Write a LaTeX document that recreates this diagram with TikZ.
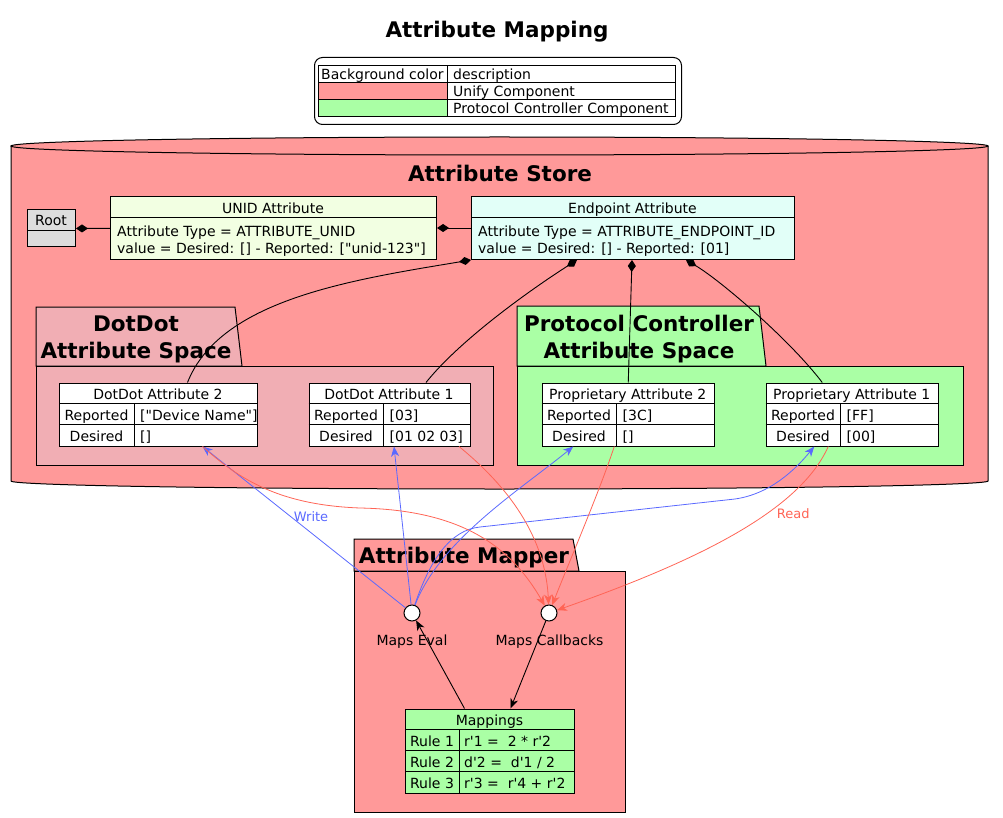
\documentclass[tikz,border=0pt]{standalone}
\usepackage{fontspec}
\usetikzlibrary{arrows.meta}
\newfontfamily\umlfont{DejaVu Sans}
\definecolor{unify}{RGB}{255,153,153}
\definecolor{pcgreen}{RGB}{170,255,165}
\definecolor{ddpink}{RGB}{241,174,180}
\definecolor{unidbg}{RGB}{242,255,226}
\definecolor{epbg}{RGB}{226,255,248}
\definecolor{rootbg}{RGB}{221,221,221}
\definecolor{writeblue}{RGB}{90,105,255}
\definecolor{readred}{RGB}{255,100,85}

\tikzset{
  txt/.style={font=\umlfont\fontsize{14}{17}\selectfont, inner sep=0pt, anchor=base},
  bigbold/.style={font=\umlfont\bfseries\fontsize{21.5}{27}\selectfont, inner sep=0pt, align=center},
  lbl/.style={font=\umlfont\fontsize{13}{15}\selectfont, inner sep=2pt},
  box/.style={draw, line width=1pt, inner sep=0pt},
  tblbox/.style={box, fill=white, minimum height=63pt},
  pkg/.style={draw, line width=1pt},
  port/.style={circle, draw, line width=1pt, fill=white, minimum size=16pt, inner sep=0pt},
  comp/.style={line width=0.9pt, {Diamond[length=12pt,width=8pt]}-},
  flow/.style={line width=0.9pt, -{Stealth[length=10pt,width=8pt,inset=3pt]}},
  writeline/.style={writeblue, line width=0.8pt, -{Stealth[length=10pt,width=8pt,inset=3pt]}},
  readline/.style={readred, line width=0.8pt, -{Stealth[length=10pt,width=8pt,inset=3pt]}},
}

% name, x, y, width, title, reported, desired
\newcommand\attrtable[7]{%
  \node[tblbox, minimum width=#4pt, anchor=north west] (#1) at (#2,#3) {};
  \draw[line width=1pt] (#2,#3+21) -- ++(#4,0) (#2,#3+42) -- ++(#4,0)
        (#2+75,#3+21) -- ++(0,42);
  \node[txt] (#1-title) at (#2+#4/2,#3+17) {#5};
  \node[txt] (#1-rl) at (#2+37.5,#3+38) {Reported};
  \node[txt, anchor=base west] (#1-rv) at (#2+81,#3+38) {#6};
  \node[txt] (#1-dl) at (#2+37.5,#3+59) {Desired};
  \node[txt, anchor=base west] (#1-dv) at (#2+81,#3+59) {#7};
}

\begin{document}
\begin{tikzpicture}[x=1pt,y=-1pt]
    \useasboundingbox (0,0) rectangle (1003,818);

    % title
    \node[bigbold, anchor=base] (title) at (497,37.5) {Attribute Mapping};

    % legend
    \node[box, rounded corners=8pt, fill=white, minimum width=367pt,
          minimum height=67pt, anchor=north west] (legend) at (314,57) {};
    \fill[unify] (318,82.5) rectangle (447,99.5);
    \fill[pcgreen] (318,99.5) rectangle (447,116.5);
    \draw[line width=1pt] (318,65.7) rectangle (675.5,116.5)
      (318,82.5) -- (675.5,82.5) (318,99.5) -- (675.5,99.5)
      (447,65.7) -- (447,116.5);
    \node[txt, anchor=base west] (lgh1) at (321,80) {Background color};
    \node[txt, anchor=base west] (lgh2) at (453,80) {description};
    \node[txt, anchor=base west] (lgunify) at (453,97) {Unify Component};
    \node[txt, anchor=base west] (lgpc) at (453,114) {Protocol Controller Component};

    % attribute store (cylinder)
    \draw[line width=1pt, fill=unify] (11,146) -- (11,481)
      arc[start angle=180, end angle=0, x radius=488.5, y radius=8] -- (988,146);
    \draw[line width=1pt, fill=unify] (499.5,146) ellipse[x radius=488.5, y radius=9];
    \node[bigbold, anchor=base] (store) at (500,181.5) {Attribute Store};

    % root, unid, endpoint
    \node[box, fill=rootbg, minimum width=48pt, minimum height=37pt,
          anchor=north west] (root) at (27,209.5) {};
    \draw[line width=1pt] (27,230.5) -- (75,230.5);
    \node[txt] (root-title) at (51,226) {Root};

    \node[box, fill=unidbg, minimum width=326pt, minimum height=63pt,
          anchor=north west] (unid) at (110,196) {};
    \draw[line width=1pt] (110,217.5) -- (436,217.5);
    \node[txt] (unid-title) at (273,213.3) {UNID Attribute};
    \node[txt, anchor=base west] (unid-type) at (117,236.5) {Attribute Type = ATTRIBUTE\_UNID};
    \node[txt, anchor=base west] (unid-val) at (117,253.5) {value = Desired: [] - Reported: ["unid-123"]};

    \node[box, fill=epbg, minimum width=323pt, minimum height=63pt,
          anchor=north west] (endpoint) at (471,196) {};
    \draw[line width=1pt] (471,217.5) -- (794,217.5);
    \node[txt] (endpoint-title) at (632.5,213.3) {Endpoint Attribute};
    \node[txt, anchor=base west] (endpoint-type) at (478,236.5) {Attribute Type = ATTRIBUTE\_ENDPOINT\_ID};
    \node[txt, anchor=base west] (endpoint-val) at (478,253.5) {value = Desired: [] - Reported: [01]};

    % dotdot attribute space
    \draw[pkg, fill=ddpink] (36,366) -- (36,307) -- (235,307) -- (242,366) -- cycle;
    \node[box, fill=ddpink, minimum width=457pt, minimum height=99pt,
          anchor=north west] (ddspace) at (36,366) {};
    \node[bigbold] (ddspace-title) at (136,339) {DotDot\\Attribute Space};

    % protocol controller attribute space
    \draw[pkg, fill=pcgreen] (517,366) -- (517,306) -- (759,306) -- (766,366) -- cycle;
    \node[box, fill=pcgreen, minimum width=446pt, minimum height=99pt,
          anchor=north west] (pcspace) at (517,366) {};
    \node[bigbold] (pcspace-title) at (639,339) {Protocol Controller\\Attribute Space};

    \attrtable{dd2}{59}{382.5}{198}{DotDot Attribute 2}{["Device Name"]}{[]}
    \attrtable{dd1}{308.5}{382.5}{161}{DotDot Attribute 1}{[03]}{[01 02 03]}
    \attrtable{prop2}{541.5}{382.5}{172.5}{Proprietary Attribute 2}{[3C]}{[]}
    \attrtable{prop1}{765.5}{382.5}{172.5}{Proprietary Attribute 1}{[FF]}{[00]}

    % attribute mapper
    \draw[pkg, fill=unify] (354,571) -- (354,539) -- (573,539) -- (579,571) -- cycle;
    \node[box, fill=unify, minimum width=271pt, minimum height=241pt,
          anchor=north west] (mapper) at (354,571) {};
    \node[bigbold, anchor=base] (mapper-title) at (464,563) {Attribute Mapper};

    \node[port] (eval) at (412,613) {};
    \node[txt] (eval-lbl) at (412,645) {Maps Eval};
    \node[port] (callbacks) at (549,613) {};
    \node[txt] (callbacks-lbl) at (549.5,645) {Maps Callbacks};

    % mappings table
    \node[box, fill=pcgreen, minimum width=169pt, minimum height=84pt,
          anchor=north west] (mappings) at (405,708.5) {};
    \draw[line width=1pt] (405,729.5) -- (574,729.5) (405,750.5) -- (574,750.5)
      (405,771.5) -- (574,771.5) (459.5,729.5) -- (459.5,792.5);
    \node[txt] (mappings-title) at (489.5,725.5) {Mappings};
    \node[txt] (rule1) at (432,746.5) {Rule 1};
    \node[txt, anchor=base west] (rule1-v) at (464,746.5) {r'1 =\ \ 2 * r'2};
    \node[txt] (rule2) at (432,767.5) {Rule 2};
    \node[txt, anchor=base west] (rule2-v) at (464,767.5) {d'2 =\ \ d'1 / 2};
    \node[txt] (rule3) at (432,788.5) {Rule 3};
    \node[txt, anchor=base west] (rule3-v) at (464,788.5) {r'3 =\ \ r'4 + r'2};

    % composition links
    \draw[comp] (root) -- (unid);
    \draw[comp] (unid) -- (endpoint);
    \draw[comp] (endpoint.south west)
      .. controls (350,280) and (220,300) .. ([xshift=29pt]dd2.north);
    \draw[comp] ([xshift=106pt]endpoint.south west)
      .. controls (530,290) and (460,340) .. ([xshift=36.5pt]dd1.north);
    \draw[comp] ([xshift=161pt]endpoint.south west) -- (prop2.north);
    \draw[comp] ([xshift=215pt]endpoint.south west)
      .. controls (720,280) and (790,340) .. ([xshift=-30pt]prop1.north);

    % write (blue)
    \draw[writeline] (eval) -- node[lbl, pos=0.45, above=11pt, xshift=-3pt, text=writeblue] {Write}
      ([xshift=44pt]dd2.south);
    \draw[writeline] (eval) -- ([xshift=4.5pt]dd1.south);
    \draw[writeline] (eval) .. controls (440,540) and (520,490) .. ([xshift=-55pt]prop2.south);
    \draw[writeline] (eval) .. controls (430,560) and (450,530) .. (480,527) -- (735,499)
      .. controls (770,494) and (795,470) .. ([xshift=-38pt]prop1.south);

    % read (red)
    \draw[readline] ([xshift=44pt]dd2.south) .. controls (240,480) and (280,505) .. (360,508)
      .. controls (460,510) and (510,545) .. (callbacks);
    \draw[readline] ([xshift=69.5pt]dd1.south) .. controls (500,480) and (545,530) .. (callbacks);
    \draw[readline] ([xshift=-14pt]prop2.south) .. controls (600,490) and (570,560) .. (callbacks);
    \draw[readline] ([xshift=-24pt]prop1.south) .. controls (800,510) and (700,560) .. (callbacks)
      node[lbl, pos=0.38, right=8pt, text=readred] {Read};

    % mapper flow
    \draw[flow] ([xshift=-25.5pt]mappings.north) -- (eval);
    \draw[flow] (callbacks) -- ([xshift=20.5pt]mappings.north);
\end{tikzpicture}
\end{document}
